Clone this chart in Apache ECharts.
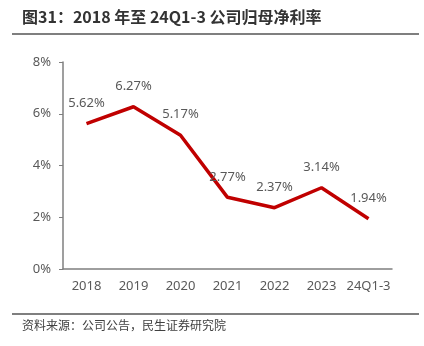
<!DOCTYPE html>
<html><head><meta charset="utf-8">
<script src="https://cdn.jsdelivr.net/npm/echarts@6/dist/echarts.min.js"></script>
<style>
html,body{margin:0;padding:0;background:#fff;}
#wrap{position:relative;width:424px;height:346px;font-family:"Noto Sans CJK SC","Noto Sans",sans-serif;}
#title{position:absolute;left:22px;top:4px;font-size:16px;font-weight:bold;color:#333;}
#line1{position:absolute;left:12px;top:33px;width:407px;height:2px;background:#7f7f7f;}
#line2{position:absolute;left:12px;top:313px;width:407px;height:2px;background:#7f7f7f;}
#src{position:absolute;left:22px;top:316px;font-size:12px;color:#404040;}
#chart{position:absolute;left:0;top:0;width:424px;height:346px;}
</style></head>
<body><div id="wrap">
<div id="chart"></div>
<div id="title">图31：2018 年至 24Q1-3 公司归母净利率</div>
<div id="line1"></div>
<div id="line2"></div>
<div id="src">资料来源：公司公告，民生证券研究院</div>
</div>
<script>
const categories = ['2018','2019','2020','2021','2022','2023','24Q1-3'];
const netMargin = [5.62, 6.27, 5.17, 2.77, 2.37, 3.14, 1.94];
const yTicks = [0, 2, 4, 6, 8];

const chart = echarts.init(document.getElementById('chart'));
chart.setOption({
  animation: false,
  grid: {left: 63, right: 32, top: 62, bottom: 77},
  xAxis: {
    type: 'category', data: categories, boundaryGap: true,
    axisLine: {lineStyle: {color: '#7f7f7f', width: 1.5}},
    axisTick: {show: false},
    axisLabel: {interval: 0, color: '#595959', fontSize: 13, margin: 11, fontFamily: 'Noto Sans'}
  },
  yAxis: {
    type: 'value', min: yTicks[0], max: yTicks[yTicks.length-1], interval: 2,
    axisLine: {show: true, lineStyle: {color: '#7f7f7f', width: 1.5}},
    axisTick: {show: true, inside: false, length: 4, lineStyle: {color: '#7f7f7f'}},
    splitLine: {show: false},
    axisLabel: {color: '#595959', fontSize: 13, margin: 12, fontFamily: 'Noto Sans', formatter: v => v + '%'}
  },
  series: [{
    type: 'line', data: netMargin, symbol: 'circle', symbolSize: 2, showSymbol: true,
    itemStyle: {color: 'rgba(192,0,0,0)'},
    lineStyle: {color: '#C00000', width: 3.5},
    label: {show: true, position: 'top', distance: 13, color: '#595959', fontSize: 13, fontFamily: 'Noto Sans',
      formatter: p => p.value.toFixed(2) + '%'}
  }]
});
</script>
</body></html>
